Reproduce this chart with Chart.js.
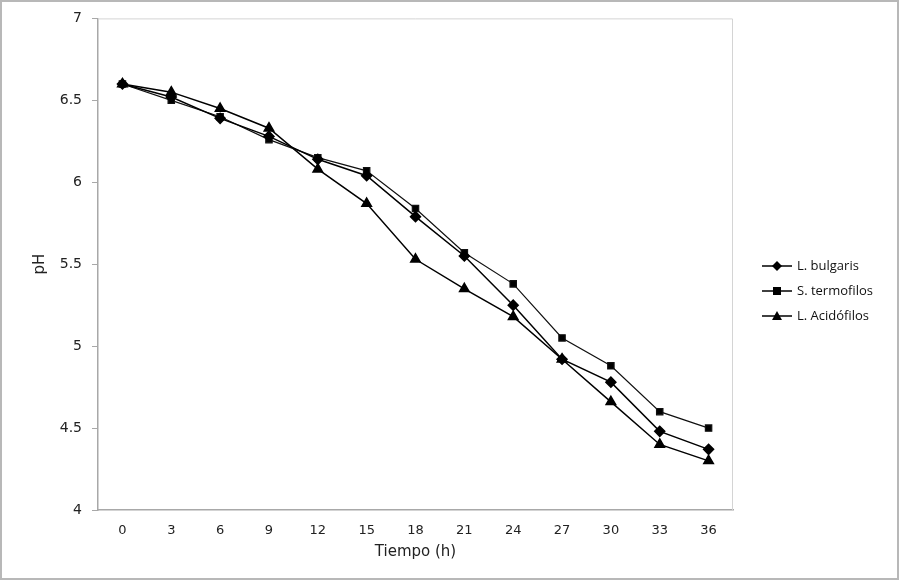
<!DOCTYPE html>
<html>
<head>
<meta charset="utf-8">
<script src="https://cdn.jsdelivr.net/npm/chart.js@4"></script>
<style>
  body { margin: 0; background: #fff; }
  canvas { display: block; }
</style>
</head>
<body>
<canvas id="myChart" width="900" height="581"></canvas>
<script>
'use strict';

// tiempo (h)
let horas = ['0', '3', '6', '9', '12', '15', '18', '21', '24', '27', '30', '33', '36'];

let bulgaris = [6.6, 6.52, 6.39, 6.28, 6.14, 6.04, 5.79, 5.55, 5.25, 4.92, 4.78, 4.48, 4.37];
let termofilos = [6.6, 6.5, 6.4, 6.26, 6.15, 6.07, 5.84, 5.57, 5.38, 5.05, 4.88, 4.6, 4.5];
let acidofilos = [6.6, 6.55, 6.45, 6.33, 6.08, 5.87, 5.53, 5.35, 5.18, 4.92, 4.66, 4.4, 4.3];

let nombres = ['L. bulgaris', 'S. termofilos', 'L. Acidófilos'];

// marco exterior, borde del area y leyenda
let marcoPlugin = {
    id: 'marco',
    afterDraw: function (chart) {
        let ctx = chart.ctx;
        let area = chart.chartArea;
        ctx.save();
        ctx.strokeStyle = '#d4d4d4';
        ctx.lineWidth = 1;
        ctx.beginPath();
        ctx.moveTo(area.left, area.top + 0.5);
        ctx.lineTo(area.right - 0.5, area.top + 0.5);
        ctx.lineTo(area.right - 0.5, area.bottom);
        ctx.stroke();

        ctx.strokeStyle = '#b8b8b8';
        ctx.lineWidth = 2;
        ctx.strokeRect(1, 1, 897, 578);

        // leyenda
        ctx.font = '13px "Open Sans"';
        ctx.textBaseline = 'middle';
        chart.data.datasets.forEach(function (ds, i) {
            let y = 266 + i * 25;
            ctx.strokeStyle = '#000';
            ctx.lineWidth = 1.5;
            ctx.beginPath();
            ctx.moveTo(762, y);
            ctx.lineTo(792, y);
            ctx.stroke();
            ctx.fillStyle = '#000';
            ctx.beginPath();
            if (ds.pointStyle === 'rectRot') {
                ctx.moveTo(777, y - 5);
                ctx.lineTo(782, y);
                ctx.lineTo(777, y + 5);
                ctx.lineTo(772, y);
            } else if (ds.pointStyle === 'rect') {
                ctx.rect(773, y - 4, 8, 8);
            } else {
                ctx.moveTo(777, y - 5);
                ctx.lineTo(782, y + 4);
                ctx.lineTo(772, y + 4);
            }
            ctx.closePath();
            ctx.fill();
            ctx.fillStyle = '#111';
            ctx.fillText(ds.label, 797, y);
        });
        ctx.restore();
    }
};

let ctx = document.getElementById('myChart').getContext('2d');

let phChart = new Chart(ctx, {
    type: 'line',
    data: {
        labels: horas,
        datasets: [{
            label: nombres[0],
            data: bulgaris,
            borderColor: '#000',
            backgroundColor: '#000',
            borderWidth: 1.5,
            pointStyle: 'rectRot',
            pointRadius: 5,
            tension: 0
        }, {
            label: nombres[1],
            data: termofilos,
            borderColor: '#111',
            backgroundColor: '#000',
            borderWidth: 1.2,
            pointStyle: 'rect',
            pointRadius: 4.5,
            tension: 0
        }, {
            label: nombres[2],
            data: acidofilos,
            borderColor: '#000',
            backgroundColor: '#000',
            borderWidth: 1.5,
            pointStyle: 'triangle',
            pointRadius: 5.5,
            tension: 0
        }]
    },
    options: {
        responsive: false,
        animation: false,
        devicePixelRatio: 1,
        layout: {
            padding: { left: 0, top: 17, right: 167, bottom: 0 }
        },
        plugins: {
            legend: { display: false },
            tooltip: { enabled: false }
        },
        scales: {
            x: {
                offset: true,
                grid: { display: false, drawTicks: false },
                border: { display: true, color: '#a8a8a8', width: 1.5 },
                ticks: {
                    color: '#222',
                    padding: 13,
                    maxRotation: 0,
                    font: { family: '"DejaVu Sans"', size: 13 }
                },
                title: {
                    display: true,
                    text: 'Tiempo (h)',
                    color: '#222',
                    font: { family: '"DejaVu Sans"', size: 15 },
                    padding: { top: 0, bottom: 20 }
                },
                afterFit: function (scale) { scale.height = 71; }
            },
            y: {
                min: 4,
                max: 7,
                ticks: {
                    stepSize: 0.5,
                    color: '#222',
                    padding: 10,
                    font: { family: '"DejaVu Sans"', size: 14 },
                    callback: function (value) { return String(Number(value)); }
                },
                grid: {
                    drawOnChartArea: false,
                    drawTicks: true,
                    tickLength: 6,
                    color: '#a8a8a8'
                },
                border: { display: true, color: '#a8a8a8', width: 1.5 },
                title: {
                    display: true,
                    text: 'pH',
                    color: '#222',
                    font: { family: '"DejaVu Sans"', size: 15 },
                    padding: { top: 31, bottom: 0 }
                },
                afterFit: function (scale) { scale.width = 98; }
            }
        }
    },
    plugins: [marcoPlugin]
});
</script>
</body>
</html>
